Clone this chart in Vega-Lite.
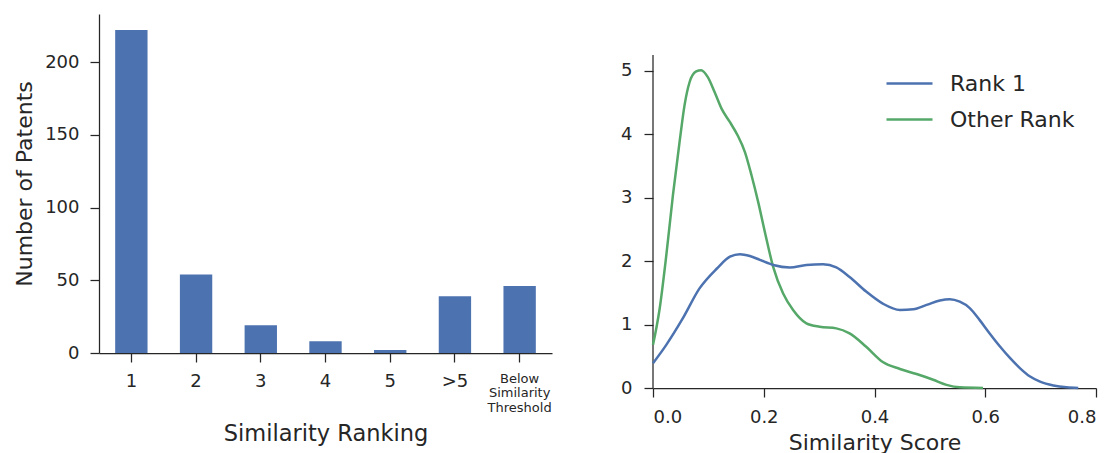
{
  "$schema": "https://vega.github.io/schema/vega-lite/v6.json",
  "padding": {"left": 13, "top": 14, "right": 5, "bottom": 5},
  "config": {
    "view": {"stroke": null},
    "font": "DejaVu Sans",
    "axis": {
      "grid": false,
      "domainColor": "#262626",
      "tickColor": "#262626",
      "labelColor": "#262626",
      "titleColor": "#262626",
      "labelFont": "DejaVu Sans",
      "titleFont": "DejaVu Sans",
      "domainWidth": 1.25,
      "tickWidth": 1.25,
      "tickSize": 9,
      "labelFontSize": 18,
      "titleFontSize": 22,
      "titleFontWeight": "normal",
      "labelPadding": 11
    }
  },
  "spacing": 68,
  "resolve": {"legend": {"color": "independent"}, "scale": {"color": "independent"}},
  "hconcat": [
    {
      "width": 453,
      "height": 339,
      "data": {
        "values": [
          {"rank": "1", "count": 222},
          {"rank": "2", "count": 54},
          {"rank": "3", "count": 19},
          {"rank": "4", "count": 8},
          {"rank": "5", "count": 2},
          {"rank": ">5", "count": 39},
          {"rank": "Below Similarity Threshold", "count": 46}
        ]
      },
      "mark": {"type": "bar", "color": "#4c72b0"},
      "encoding": {
        "x": {
          "field": "rank",
          "type": "nominal",
          "sort": null,
          "scale": {"paddingInner": 0.5, "paddingOuter": 0.25},
          "axis": {
            "title": "Similarity Ranking",
            "titleFontSize": 22.5,
            "labelAngle": 0,
            "labelPadding": 10,
            "labelLineHeight": 14.5,
            "labelExpr": "datum.value === 'Below Similarity Threshold' ? ['Below','Similarity','Threshold'] : datum.label",
            "labelFontSize": {"condition": {"test": "datum.value === 'Below Similarity Threshold'", "value": 13}, "value": 18},
            "titlePadding": 8
          }
        },
        "y": {
          "field": "count",
          "type": "quantitative",
          "scale": {"domain": [0, 233], "nice": false},
          "axis": {"values": [0, 50, 100, 150, 200], "format": "d", "title": "Number of Patents", "titlePadding": 8}
        }
      }
    },
    {
      "width": 443,
      "height": 374,
      "layer": [
        {
          "data": {"values": [{"x": 0, "y": 0, "y2": 5.25}]},
          "mark": {"type": "rule", "color": "#262626", "strokeWidth": 1.25},
          "encoding": {
            "x": {"field": "x", "type": "quantitative"},
            "y": {"field": "y", "type": "quantitative"},
            "y2": {"field": "y2"}
          }
        },
        {
          "data": {
            "values": [
              {"series": "Other Rank", "x": 0.0, "y": 0.68},
              {"series": "Other Rank", "x": 0.012, "y": 1.25},
              {"series": "Other Rank", "x": 0.024, "y": 2.09},
              {"series": "Other Rank", "x": 0.036, "y": 3.04},
              {"series": "Other Rank", "x": 0.048, "y": 3.88},
              {"series": "Other Rank", "x": 0.057, "y": 4.46},
              {"series": "Other Rank", "x": 0.066, "y": 4.82},
              {"series": "Other Rank", "x": 0.078, "y": 4.99},
              {"series": "Other Rank", "x": 0.087, "y": 5.01},
              {"series": "Other Rank", "x": 0.099, "y": 4.9},
              {"series": "Other Rank", "x": 0.111, "y": 4.67},
              {"series": "Other Rank", "x": 0.124, "y": 4.4},
              {"series": "Other Rank", "x": 0.139, "y": 4.19},
              {"series": "Other Rank", "x": 0.153, "y": 3.98},
              {"series": "Other Rank", "x": 0.166, "y": 3.72},
              {"series": "Other Rank", "x": 0.178, "y": 3.35},
              {"series": "Other Rank", "x": 0.19, "y": 2.93},
              {"series": "Other Rank", "x": 0.202, "y": 2.46},
              {"series": "Other Rank", "x": 0.217, "y": 1.91},
              {"series": "Other Rank", "x": 0.235, "y": 1.49},
              {"series": "Other Rank", "x": 0.253, "y": 1.23},
              {"series": "Other Rank", "x": 0.277, "y": 1.02},
              {"series": "Other Rank", "x": 0.301, "y": 0.965},
              {"series": "Other Rank", "x": 0.331, "y": 0.94},
              {"series": "Other Rank", "x": 0.355, "y": 0.86},
              {"series": "Other Rank", "x": 0.385, "y": 0.65},
              {"series": "Other Rank", "x": 0.415, "y": 0.41},
              {"series": "Other Rank", "x": 0.446, "y": 0.3},
              {"series": "Other Rank", "x": 0.476, "y": 0.22},
              {"series": "Other Rank", "x": 0.506, "y": 0.13},
              {"series": "Other Rank", "x": 0.53, "y": 0.05},
              {"series": "Other Rank", "x": 0.554, "y": 0.01},
              {"series": "Other Rank", "x": 0.596, "y": 0.0},
              {"series": "Rank 1", "x": 0.0, "y": 0.39},
              {"series": "Rank 1", "x": 0.024, "y": 0.68},
              {"series": "Rank 1", "x": 0.054, "y": 1.1},
              {"series": "Rank 1", "x": 0.084, "y": 1.57},
              {"series": "Rank 1", "x": 0.115, "y": 1.88},
              {"series": "Rank 1", "x": 0.139, "y": 2.07},
              {"series": "Rank 1", "x": 0.157, "y": 2.11},
              {"series": "Rank 1", "x": 0.175, "y": 2.08},
              {"series": "Rank 1", "x": 0.193, "y": 2.02},
              {"series": "Rank 1", "x": 0.217, "y": 1.94},
              {"series": "Rank 1", "x": 0.247, "y": 1.9},
              {"series": "Rank 1", "x": 0.277, "y": 1.94},
              {"series": "Rank 1", "x": 0.307, "y": 1.95},
              {"series": "Rank 1", "x": 0.331, "y": 1.9},
              {"series": "Rank 1", "x": 0.355, "y": 1.75},
              {"series": "Rank 1", "x": 0.385, "y": 1.52},
              {"series": "Rank 1", "x": 0.415, "y": 1.33},
              {"series": "Rank 1", "x": 0.446, "y": 1.23},
              {"series": "Rank 1", "x": 0.47, "y": 1.24},
              {"series": "Rank 1", "x": 0.494, "y": 1.31},
              {"series": "Rank 1", "x": 0.518, "y": 1.38},
              {"series": "Rank 1", "x": 0.536, "y": 1.4},
              {"series": "Rank 1", "x": 0.554, "y": 1.36},
              {"series": "Rank 1", "x": 0.572, "y": 1.26},
              {"series": "Rank 1", "x": 0.59, "y": 1.07},
              {"series": "Rank 1", "x": 0.608, "y": 0.86},
              {"series": "Rank 1", "x": 0.627, "y": 0.65},
              {"series": "Rank 1", "x": 0.645, "y": 0.47},
              {"series": "Rank 1", "x": 0.663, "y": 0.31},
              {"series": "Rank 1", "x": 0.681, "y": 0.18},
              {"series": "Rank 1", "x": 0.699, "y": 0.1},
              {"series": "Rank 1", "x": 0.723, "y": 0.04},
              {"series": "Rank 1", "x": 0.747, "y": 0.01},
              {"series": "Rank 1", "x": 0.768, "y": 0.0}
            ]
          },
          "mark": {"type": "line", "interpolate": "monotone", "strokeWidth": 2.5},
          "encoding": {
            "x": {
              "field": "x",
              "type": "quantitative",
              "scale": {"domain": [0, 0.8], "nice": false},
              "axis": {"values": [0, 0.2, 0.4, 0.6, 0.8], "format": ".1f", "title": "Similarity Score", "labelPadding": 11, "titlePadding": 6}
            },
            "y": {
              "field": "y",
              "type": "quantitative",
              "scale": {"domain": [0, 5.896], "nice": false},
              "axis": {"values": [0, 1, 2, 3, 4, 5], "format": "d", "title": null, "labelPadding": 12, "domain": false}
            },
            "color": {
              "field": "series",
              "type": "nominal",
              "sort": ["Rank 1", "Other Rank"],
              "scale": {"domain": ["Rank 1", "Other Rank"], "range": ["#4c72b0", "#55a868"]},
              "legend": {
                "title": null,
                "orient": "none",
                "legendX": 232,
                "legendY": 45,
                "padding": 0,
                "symbolType": "stroke",
                "symbolSize": 2116,
                "symbolStrokeWidth": 2.5,
                "labelFontSize": 22,
                "labelFont": "DejaVu Sans",
                "labelColor": "#262626",
                "labelOffset": 16,
                "rowPadding": -16
              }
            }
          }
        }
      ]
    }
  ]
}
